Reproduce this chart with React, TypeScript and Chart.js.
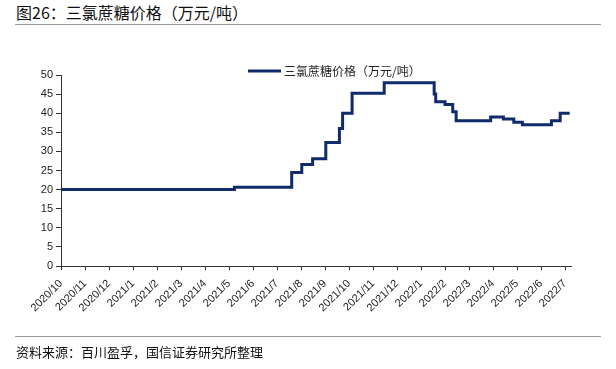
import React, { useEffect, useRef } from "react";
import { Chart, registerables } from "chart.js";

Chart.register(...registerables);

const monthLabels = [
  "2020/10", "2020/11", "2020/12", "2021/1", "2021/2", "2021/3", "2021/4",
  "2021/5", "2021/6", "2021/7", "2021/8", "2021/9", "2021/10", "2021/11",
  "2021/12", "2022/1", "2022/2", "2022/3", "2022/4", "2022/5", "2022/6", "2022/7",
];

const changeDates = [
  "2020-10-01", "2021-05-08", "2021-07-20", "2021-08-02", "2021-08-16",
  "2021-09-02", "2021-09-19", "2021-09-23", "2021-10-05", "2021-11-15",
  "2022-01-18", "2022-01-20", "2022-02-01", "2022-02-10", "2022-02-14",
  "2022-03-29", "2022-04-14", "2022-04-27", "2022-05-08", "2022-06-14",
  "2022-06-25", "2022-07-07",
];

const prices = [
  20, 20.6, 24.5, 26.6, 28.1, 32.3, 36, 40, 45.2, 48,
  45, 43, 42.3, 40.4, 38, 39, 38.5, 37.6, 37, 38, 40, 40,
];

const seriesName = "三氯蔗糖价格（万元/吨）";
const titleText = "图26：三氯蔗糖价格（万元/吨）";
const sourceText = "资料来源：百川盈孚，国信证券研究所整理";

const LINE_COLOR = "#0f2b6b";
const CJK = '"Noto Sans CJK SC", "Noto Sans", sans-serif';

function toMonthIndex(s: string): number {
  const [y, m, d] = s.split("-").map(Number);
  const days = new Date(y, m, 0).getDate();
  return (y - 2020) * 12 + (m - 10) + (d - 1) / days;
}

const legendPlugin = {
  id: "customLegend",
  afterDraw(chart: any) {
    const ctx = chart.ctx;
    ctx.save();
    ctx.strokeStyle = LINE_COLOR;
    ctx.lineWidth = 3;
    ctx.beginPath();
    ctx.moveTo(248, 71);
    ctx.lineTo(281, 71);
    ctx.stroke();
    ctx.fillStyle = "#222";
    ctx.font = `12px ${CJK}`;
    ctx.textBaseline = "middle";
    ctx.textAlign = "left";
    ctx.fillText(seriesName, 284, 71);
    ctx.restore();
  },
};

export default function App() {
  const ref = useRef<HTMLCanvasElement>(null);

  useEffect(() => {
    if (!ref.current) return;
    const data = changeDates.map((d, i) => ({ x: toMonthIndex(d), y: prices[i] }));
    const chart = new Chart(ref.current, {
      type: "line",
      data: {
        datasets: [
          {
            label: seriesName,
            data,
            borderColor: LINE_COLOR,
            backgroundColor: LINE_COLOR,
            borderWidth: 3,
            pointRadius: 0,
            stepped: true,
            fill: false,
          },
        ],
      },
      options: {
        animation: false,
        responsive: false,
        maintainAspectRatio: false,
        layout: { padding: { left: 0, top: 75, right: 45, bottom: 0 } },
        plugins: {
          legend: { display: false },
          tooltip: { enabled: false },
          title: { display: false },
        },
        scales: {
          x: {
            type: "linear",
            min: 0,
            max: 21.25,
            afterFit: (s: any) => {
              s.height = 103;
            },
            afterBuildTicks: (s: any) => {
              s.ticks = monthLabels.map((_, i) => ({ value: i }));
            },
            grid: {
              display: true,
              drawOnChartArea: false,
              drawTicks: true,
              tickLength: 4,
              color: "#333",
            },
            border: { display: true, color: "#333", width: 1 },
            ticks: {
              autoSkip: false,
              minRotation: 45,
              maxRotation: 45,
              padding: 7,
              color: "#222",
              font: { family: '"Liberation Sans", Arial, sans-serif', size: 11 },
              callback: (v: any) => monthLabels[Math.round(Number(v))] ?? "",
            },
          },
          y: {
            min: 0,
            max: 50,
            afterFit: (s: any) => {
              s.width = 61;
            },
            grid: {
              display: true,
              drawOnChartArea: false,
              drawTicks: true,
              tickLength: 5,
              color: "#333",
            },
            border: { display: true, color: "#333", width: 1 },
            ticks: {
              stepSize: 5,
              padding: 3,
              color: "#222",
              font: { family: '"Liberation Sans", Arial, sans-serif', size: 11 },
            },
          },
        },
      },
      plugins: [legendPlugin],
    });
    return () => chart.destroy();
  }, []);

  return (
    <div style={{ position: "absolute", left: 0, top: 0, width: 616, height: 369, background: "#fff", overflow: "hidden" }}>
      <div
        style={{
          position: "absolute",
          left: 16,
          top: 2,
          fontFamily: CJK,
          fontSize: 16,
          lineHeight: "20px",
          color: "#111",
          whiteSpace: "nowrap",
        }}
      >
        {titleText}
      </div>
      <div style={{ position: "absolute", left: 15, top: 24, width: 586, height: 1, background: "#9a9a9a" }} />
      <canvas ref={ref} width={616} height={369} style={{ position: "absolute", left: 0, top: 0, width: 616, height: 369 }} />
      <div style={{ position: "absolute", left: 15, top: 336, width: 586, height: 1, background: "#9a9a9a" }} />
      <div
        style={{
          position: "absolute",
          left: 16,
          top: 343,
          fontFamily: CJK,
          fontSize: 13,
          lineHeight: "18px",
          color: "#111",
          whiteSpace: "nowrap",
        }}
      >
        {sourceText}
      </div>
    </div>
  );
}
